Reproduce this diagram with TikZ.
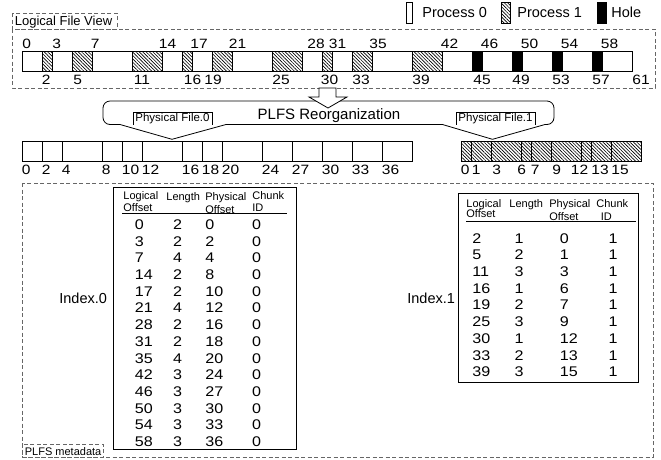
\documentclass[tikz,border=0pt]{standalone}
\usepackage{fontspec}
\setmainfont{Liberation Sans}
\newfontfamily\numfont{Liberation Sans}[FakeStretch=1.15]
\usetikzlibrary{patterns.meta}

\begin{document}
\begin{tikzpicture}[x=1pt,y=-1pt,line width=.8pt,every node/.style={inner sep=0pt},
  num/.style={font=\numfont\fontsize{13.5}{16}\selectfont,anchor=base west},
  tnum/.style={font=\numfont\fontsize{14}{16}\selectfont,anchor=base west},
  cnum/.style={font=\numfont\fontsize{14}{16}\selectfont,anchor=base},
  hdr/.style={font=\fontsize{11}{12}\selectfont,anchor=base west},
  big/.style={font=\fontsize{14.5}{16}\selectfont,anchor=base west},
  tagbox/.style={font=\fontsize{11.5}{12}\selectfont,minimum width=78pt,minimum height=11.8pt},
  dbox/.style={black!60,line width=.7pt,dash pattern=on 4pt off 2.5pt},
  hatch/.style={pattern={Lines[angle=-45,distance=2.4pt,line width=.65pt]}}]
\path[use as bounding box] (0,0) rectangle (661,459);

% legend
\draw (406.5,2) rectangle (412,23);
\node[big] (leg0) at (422,17) {Process 0};
\draw[hatch] (501,2) rectangle (510,23);
\node[big] (leg1) at (517,17) {Process 1};
\draw[fill=black] (597,2) rectangle (606,23);
\node[big] (leg2) at (611,17) {Hole};

% logical file view
\draw[dbox] (12,13) rectangle (117,29);
\node[anchor=base west,font=\fontsize{13}{14}\selectfont] (lfv) at (14.5,25.5) {Logical File View};
\draw[dbox] (12,29) rectangle (655,88);
\foreach \a/\b in {0/2,3/5,7/11,14/16,17/19,21/25,28/30,31/33,35/39,42/45,46/49,50/53,54/57,58/61}
  \draw ({22+10*\a},51) rectangle ({22+10*\b},71);
\foreach \a/\b in {2/3,5/7,11/14,16/17,19/21,25/28,30/31,33/35,39/42}
  \draw[hatch] ({22+10*\a},51) rectangle ({22+10*\b},71);
\foreach \a in {45,49,53,57}
  \draw[fill=black] ({22+10*\a},51) rectangle ({32+10*\a},71);
\foreach \a/\x in {0/22,3/52,7/90.5,14/158.5,17/190,21/228.5,28/307,31/328.5,35/369,42/440.5,46/480.5,50/520.5,54/560.5,58/600.5}
  \node[num] (top\a) at (\x,48) {\a};
\foreach \a/\x in {2/41.5,5/73,11/133.5,16/183.5,19/204,25/272,30/320.5,33/352,39/412,45/473,49/512,53/552,57/592,61/632}
  \node[num] (bot\a) at (\x,84) {\a};

% reorganization callout
\draw[fill=white] (120,124.5) [rounded corners=7pt] -- (103,124.5) -- (103,101) -- (554,101) -- (554,124.5)
  [sharp corners] -- (545,124.5) -- (492.5,139.3) -- (442.5,124.5) -- (226,124.5) -- (172,139.3) -- cycle;
\draw[fill=white,line join=miter] (319,88) -- (336,88) -- (336,97) -- (347,97) -- (328,108) -- (309,97) -- (319,97) -- cycle;
\node[anchor=base,font=\fontsize{15}{17}\selectfont] (reorg) at (329,119.5) {PLFS Reorganization};
\node[tagbox] (pf0) at (172.5,118.6) {Physical File.0};
\draw (pf0.south west) |- (pf0.north east) -- (pf0.south east);
\node[tagbox] (pf1) at (495.5,118.6) {Physical File.1};
\draw (pf1.south west) |- (pf1.north east) -- (pf1.south east);

% physical files
\foreach \a/\b in {0/2,2/4,4/8,8/10,10/12,12/16,16/18,18/20,20/24,24/27,27/30,30/33,33/36,36/39}
  \draw ({22+10*\a},141) rectangle ({22+10*\b},161);
\foreach \a in {0,2,4,8,10,12,16,18,20,24,27,30,33,36}
  \node[num] (pz\a) at ({21.5+10*\a},174.3) {\a};
\foreach \a/\b in {0/1,1/3,3/6,6/7,7/9,9/12,12/13,13/15,15/18}
  \draw[hatch] ({461+10*\a},141) rectangle ({461+10*\b},161);
\foreach \a/\x in {0/460.5,1/471.5,3/492,6/517,7/530.5,9/552,12/570.5,13/591,15/611}
  \node[num] (po\a) at (\x,174.3) {\a};

% metadata
\draw[dbox] (22.5,183) rectangle (653,457);
\draw[dbox] (22.5,444) rectangle (103,457);
\node[hdr] (meta) at (24.5,455.5) {PLFS metadata};

% index.0
\node[big] (idx0) at (59,303) {Index.0};
\draw (113,187) rectangle (296,449);
\node[hdr] (h0a) at (123,199.5) {Logical};
\node[hdr] (h0b) at (123,211.5) {Offset};
\node[hdr] (h0c) at (166,200.5) {Length};
\node[hdr] (h0d) at (205,200.5) {Physical};
\node[hdr] (h0e) at (205,213) {Offset};
\node[hdr] (h0f) at (252,199.5) {Chunk};
\node[hdr] (h0g) at (252,211.5) {ID};
\draw (122,213.5) -- (287,213.5);
\foreach \lo/\le/\po [count=\r] in {0/2/0,3/2/2,7/4/4,14/2/8,17/2/10,21/4/12,28/2/16,31/2/18,35/4/20,42/3/24,46/3/27,50/3/30,54/3/33,58/3/36} {
  \node[tnum] (i0l\r) at (134.5,{229.3+16.72*(\r-1)}) {\lo};
  \node[cnum] (i0n\r) at (177.5,{229.3+16.72*(\r-1)}) {\le};
  \node[tnum] (i0p\r) at (205,{229.3+16.72*(\r-1)}) {\po};
  \node[cnum] (i0c\r) at (256.5,{229.3+16.72*(\r-1)}) {0};
}

% index.1
\node[big] (idx1) at (407,303) {Index.1};
\draw (458,193) rectangle (638,382);
\node[hdr] (h1a) at (466,207) {Logical};
\node[hdr] (h1b) at (466,217) {Offset};
\node[hdr] (h1c) at (509,207.5) {Length};
\node[hdr] (h1d) at (549,207.5) {Physical};
\node[hdr] (h1e) at (549,220.5) {Offset};
\node[hdr] (h1f) at (596,207) {Chunk};
\node[hdr] (h1g) at (600.5,220.5) {ID};
\draw (466,221) -- (636,221);
\foreach \lo/\le/\po [count=\r] in {2/1/0,5/2/1,11/3/3,16/1/6,19/2/7,25/3/9,30/1/12,33/2/13,39/3/15} {
  \node[tnum] (i1l\r) at (472,{243.3+16.67*(\r-1)}) {\lo};
  \node[cnum] (i1n\r) at (519,{243.3+16.67*(\r-1)}) {\le};
  \node[tnum] (i1p\r) at (559.5,{243.3+16.67*(\r-1)}) {\po};
  \node[cnum] (i1c\r) at (613,{243.3+16.67*(\r-1)}) {1};
}

\end{tikzpicture}
\end{document}
